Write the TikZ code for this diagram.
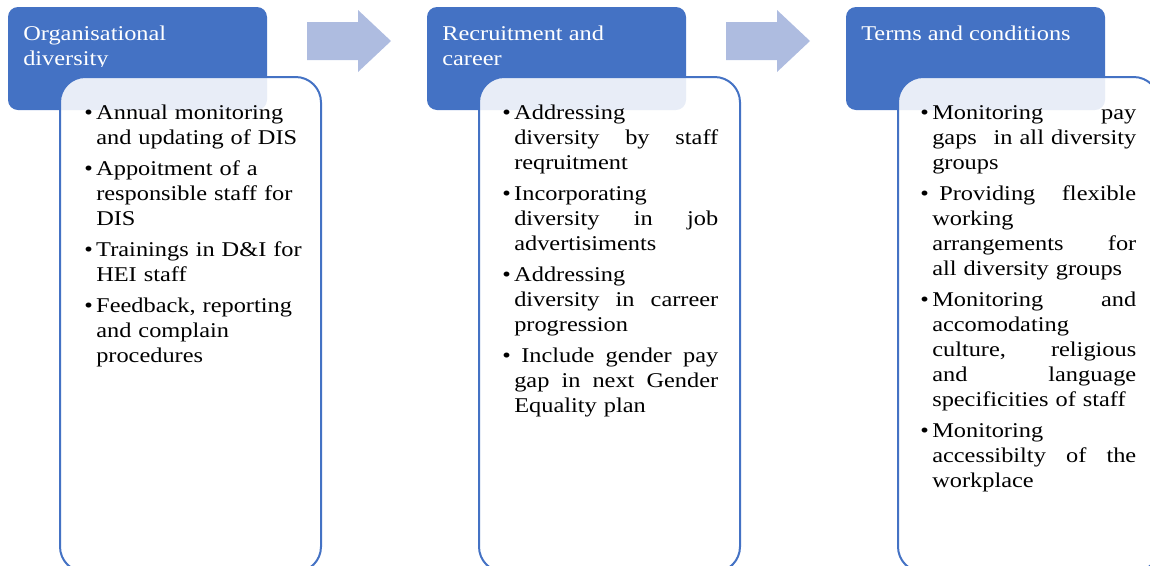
\documentclass[tikz,border=0pt]{standalone}
\usepackage{fontspec}
\setmainfont{Liberation Serif}[FakeStretch=1.16]
\definecolor{hdblue}{HTML}{4472C4}
\definecolor{arrblue}{HTML}{AEBCE0}
\newcommand{\bul}{\leavevmode\llap{\textbullet\hspace{2.5pt}}}

\begin{document}
\begin{tikzpicture}[
  x=0.75pt, y=-0.75pt,
  header/.style={fill=hdblue, rounded corners=7.5pt},
  panel/.style={draw=hdblue, line width=1.5pt, fill=white, fill opacity=0.88,
    rounded corners=19pt},
  blockarrow/.style={fill=arrblue},
  hdtext/.style={anchor=north west, inner sep=0pt, text=white, align=left,
    font=\fontsize{15.75pt}{18.75pt}\selectfont},
  items/.style={anchor=north west, inner sep=0pt, text width=153pt, align=left,
    font=\fontsize{15.75pt}{18.75pt}\selectfont},
]

\clip (0,0) rectangle (1150,565);

% === Stage 1: Organisational diversity ===
\fill[header] (8,7) rectangle (267,110);
\draw[panel] (60,77) rectangle (321,572);

% === Stage 2: Recruitment and career ===
\fill[header] (427,7) rectangle (686,110);
\draw[panel] (479,77) rectangle (740,572);

% === Stage 3: Terms and conditions ===
\fill[header] (846,7) rectangle (1105,110);
\draw[panel] (898,77) rectangle (1159,572);

% Block arrows between stages
\fill[blockarrow] (307,22) -- (358,22) -- (358,10) -- (391,41) -- (358,72)
  -- (358,60) -- (307,60) -- cycle;
\fill[blockarrow] (726,22) -- (777,22) -- (777,10) -- (810,41) -- (777,72)
  -- (777,60) -- (726,60) -- cycle;

% Stage titles (cut off at the text area)
\begin{scope}
\clip (8,7) rectangle (1150,66);
\node[hdtext] (orgtitle) at (23,26) {Organisational\\ diversity};
\node[hdtext] (rectitle) at (442,26) {Recruitment and\\ career};
\node[hdtext] (termtitle) at (861,26) {Terms and conditions};
\end{scope}

% Bullet lists
\node[items, text width=160pt] (orglist) at (96,105) {%
  \bul Annual monitoring\\ and updating of DIS\\[4.5pt]
  \bul Appoitment of a\\ responsible staff for\\ DIS\\[4.5pt]
  \bul Trainings in D\&I for\\ HEI staff\\[4.5pt]
  \bul Feedback, reporting\\ and complain\\ procedures};

\node[items] (reclist) at (514,105) {%
  \bul Addressing\\ diversity \hfill by \hfill staff\\ reqruitment\\[4.5pt]
  \bul Incorporating\\ diversity \hfill in \hfill job\\ advertisiments\\[4.5pt]
  \bul Addressing\\ diversity \hfill in \hfill carreer\\ progression\\[4.5pt]
  \bul\ Include \hfill gender \hfill pay\\ gap \hfill in \hfill next \hfill Gender\\ Equality plan};

\node[items] (termlist) at (932,105) {%
  \bul Monitoring \hfill pay\\ gaps \hfill in all diversity\\ groups\\[4.5pt]
  \bul\ Providing \hfill flexible\\ working\\ arrangements \hfill for\\ all diversity groups\\[4.5pt]
  \bul Monitoring \hfill and\\ accomodating\\ culture, \hfill religious\\ and \hfill language\\ specificities of staff\\[4.5pt]
  \bul Monitoring\\ accessibilty \hfill of \hfill the\\ workplace};

\end{tikzpicture}
\end{document}
